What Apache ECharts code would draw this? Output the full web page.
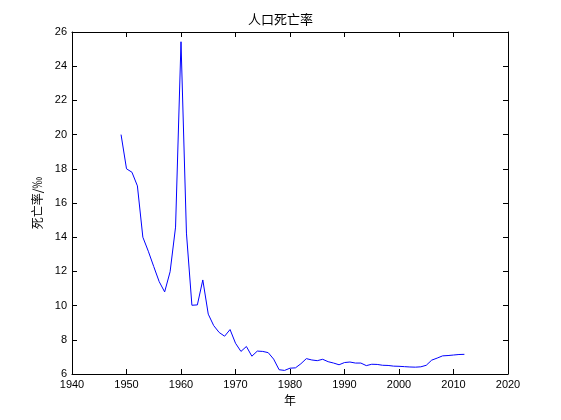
<!DOCTYPE html>
<html><head><meta charset="utf-8">
<script src="https://cdn.jsdelivr.net/npm/echarts@6/dist/echarts.min.js"></script>
<style>html,body{margin:0;background:#fff}#c{width:561px;height:420px}</style>
</head><body><div id="c"></div>
<script>
var years = [];
for (var y = 1949; y <= 2012; y++) years.push(y);
var deathRate = [20.0, 18.0, 17.8, 17.0, 14.0, 13.18, 12.28, 11.4, 10.8, 11.98,
  14.59, 25.43, 14.24, 10.02, 10.04, 11.5, 9.5, 8.83, 8.43, 8.21,
  8.6, 7.8, 7.32, 7.61, 7.04, 7.34, 7.32, 7.25, 6.87, 6.25,
  6.21, 6.34, 6.36, 6.6, 6.9, 6.82, 6.78, 6.86, 6.72, 6.64,
  6.54, 6.67, 6.7, 6.64, 6.64, 6.49, 6.57, 6.56, 6.51, 6.5,
  6.46, 6.45, 6.43, 6.41, 6.4, 6.42, 6.51, 6.81, 6.93, 7.06,
  7.08, 7.11, 7.14, 7.15];
var pts = years.map(function (y, i) { return [y, deathRate[i]]; });

var font = '"Noto Sans CJK SC", sans-serif';
var lineSt = { show: true, lineStyle: { color: '#000', width: 1 } };
var tickIn = { show: true, inside: true, length: 5, lineStyle: { color: '#000' } };
var chart = echarts.init(document.getElementById('c'));
chart.setOption({
  animation: false,
  title: { text: '人口死亡率', left: 'center', top: 8, textStyle: { fontSize: 13, fontWeight: 'normal', color: '#000', fontFamily: font } },
  grid: { left: 72, right: 53, top: 32, bottom: 46 },
  xAxis: [{
    type: 'value', min: 1940, max: 2020, interval: 10,
    name: '年', nameLocation: 'middle', nameGap: 18,
    nameTextStyle: { color: '#000', fontSize: 12, fontFamily: font },
    axisLine: lineSt, axisTick: tickIn, splitLine: { show: false },
    axisLabel: { color: '#000', fontSize: 11, margin: 5, fontFamily: 'Liberation Sans',
      formatter: function (v) { return String(v); } }
  }, {
    type: 'value', min: 1940, max: 2020, interval: 10, position: 'top',
    axisLine: lineSt, axisTick: tickIn, axisLabel: { show: false }, splitLine: { show: false }
  }],
  yAxis: [{
    type: 'value', min: 6, max: 26, interval: 2,
    name: '死亡率/‰', nameLocation: 'middle', nameGap: 26,
    nameTextStyle: { color: '#000', fontSize: 12, fontFamily: font },
    axisLine: lineSt, axisTick: tickIn, splitLine: { show: false },
    axisLabel: { color: '#000', fontSize: 11, margin: 5, fontFamily: 'Liberation Sans' }
  }, {
    type: 'value', min: 6, max: 26, interval: 2, position: 'right',
    axisLine: lineSt, axisTick: tickIn, axisLabel: { show: false }, splitLine: { show: false }
  }],
  series: [{
    type: 'line', data: pts, showSymbol: false,
    lineStyle: { color: '#0000ff', width: 1 }
  }]
});
</script></body></html>
